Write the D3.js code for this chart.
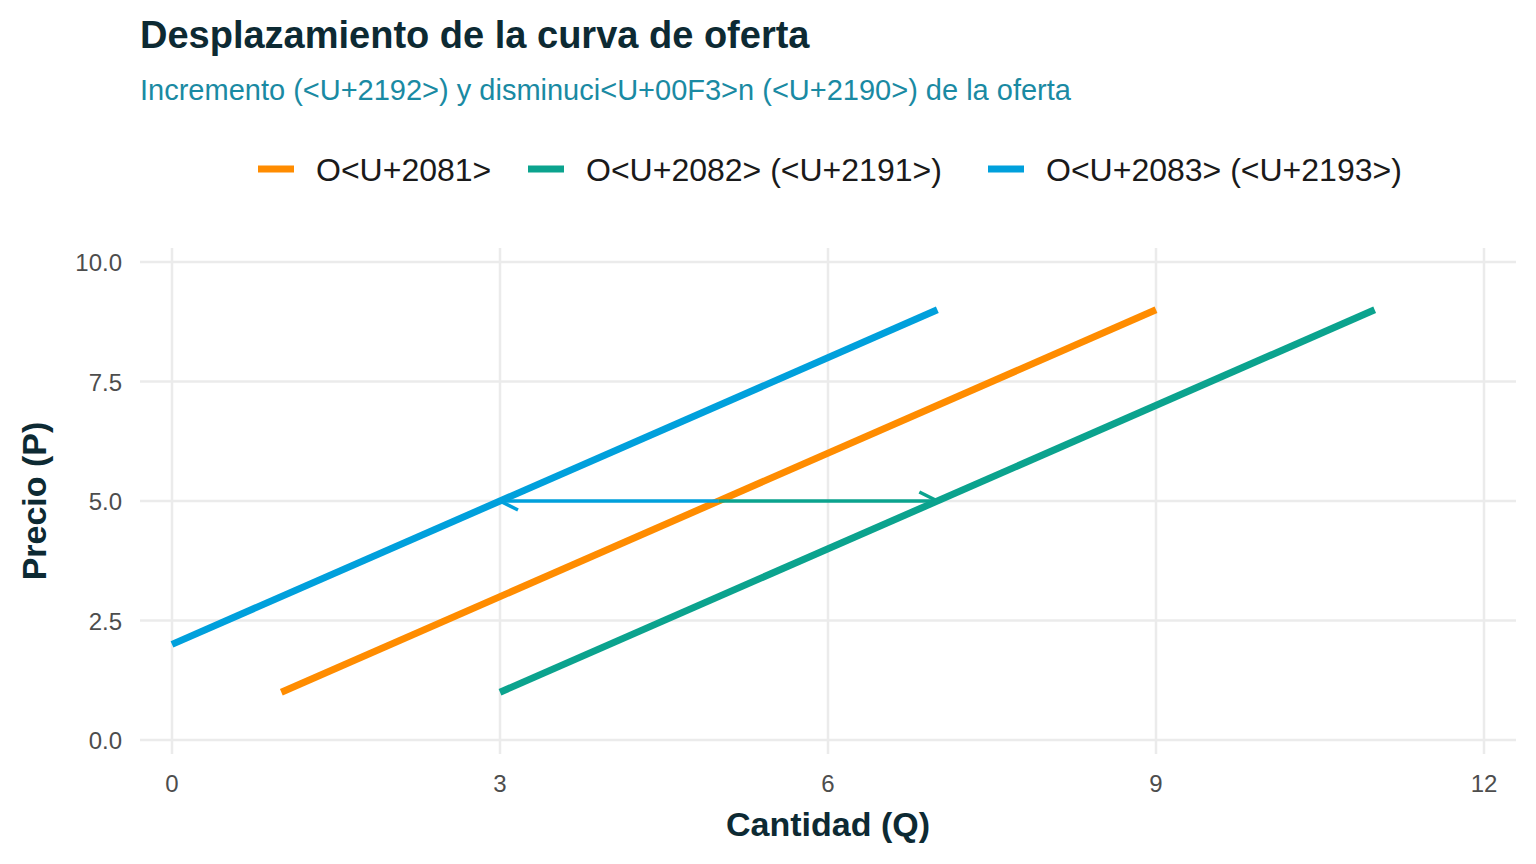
<!DOCTYPE html>
<html><head><meta charset="utf-8">
<script src="https://cdn.jsdelivr.net/npm/d3@7"></script>
<style>body{margin:0;background:#fff;font-family:"Liberation Sans",Arial,sans-serif}</style>
</head><body><svg id="chart" width="1536" height="864"></svg>
<script>
// Supply curves: [q0, p0, q1, p1]
var seriesNames = ['O<U+2081>', 'O<U+2082> (<U+2191>)', 'O<U+2083> (<U+2193>)'];
var seriesColors = ['#FF8C00', '#0BA38E', '#00A0DC'];
var seriesLines = [[1, 1, 9, 9], [3, 1, 11, 9], [0, 2, 7, 9]];
// Shift arrows: [fromQ, toQ, price, colour index]
var arrows = [[5, 7, 5, 1], [5, 3, 5, 2]];
var xTicks = [0, 3, 6, 9, 12];
var yTicks = [0, 2.5, 5, 7.5, 10];

var svg = d3.select('#chart');
var x = d3.scaleLinear().domain([0, 12]).range([172, 1484]);
var y = d3.scaleLinear().domain([0, 10]).range([740, 262]);

// grid
svg.selectAll('.gx').data(xTicks).join('line')
    .attr('x1', d => x(d)).attr('x2', d => x(d)).attr('y1', 248).attr('y2', 754)
    .attr('stroke', '#ebebeb').attr('stroke-width', 2.5);
svg.selectAll('.gy').data(yTicks).join('line')
    .attr('x1', 140).attr('x2', 1516).attr('y1', d => y(d)).attr('y2', d => y(d))
    .attr('stroke', '#ebebeb').attr('stroke-width', 2.5);

// tick labels
svg.selectAll('.tx').data(xTicks).join('text')
    .attr('x', d => x(d)).attr('y', 792).attr('text-anchor', 'middle')
    .attr('font-size', 24).attr('fill', '#4d4d4d').text(d => d);
svg.selectAll('.ty').data(yTicks).join('text')
    .attr('x', 122).attr('y', d => y(d) + 9).attr('text-anchor', 'end')
    .attr('font-size', 24).attr('fill', '#4d4d4d').text(d => d3.format('.1f')(d));

// lines
svg.selectAll('.ln').data(seriesLines).join('line')
    .attr('x1', d => x(d[0])).attr('y1', d => y(d[1]))
    .attr('x2', d => x(d[2])).attr('y2', d => y(d[3]))
    .attr('stroke', (d, i) => seriesColors[i]).attr('stroke-width', 7);

// arrows
arrows.forEach(function(a) {
    var c = seriesColors[a[3]];
    var x0 = x(a[0]), x1 = x(a[1]), yy = y(a[2]);
    var dir = x1 > x0 ? 1 : -1;
    svg.append('line').attr('x1', x0).attr('x2', x1).attr('y1', yy).attr('y2', yy)
        .attr('stroke', c).attr('stroke-width', 3.5);
    svg.append('path')
        .attr('d', 'M' + (x1 - dir * 18) + ',' + (yy - 9) + 'L' + x1 + ',' + yy + 'L' + (x1 - dir * 18) + ',' + (yy + 9))
        .attr('fill', 'none').attr('stroke', c).attr('stroke-width', 3.5);
});

// axis titles
svg.append('text').attr('x', 828).attr('y', 836).attr('text-anchor', 'middle')
    .attr('font-size', 34).attr('font-weight', 'bold').attr('fill', '#0d2a33').text('Cantidad (Q)');
svg.append('text').attr('transform', 'translate(46,501) rotate(-90)').attr('text-anchor', 'middle')
    .attr('font-size', 34).attr('font-weight', 'bold').attr('fill', '#0d2a33').text('Precio (P)');

// title & subtitle
svg.append('text').attr('x', 140).attr('y', 48).attr('font-size', 38).attr('font-weight', 'bold')
    .attr('fill', '#0d2a33').text('Desplazamiento de la curva de oferta');
svg.append('text').attr('x', 140).attr('y', 100).attr('font-size', 29).attr('fill', '#1a8aa3')
    .text('Incremento (<U+2192>) y disminuci<U+00F3>n (<U+2190>) de la oferta');

// legend
var legX = [258, 528, 988];
seriesNames.forEach(function(n, i) {
    svg.append('line').attr('x1', legX[i]).attr('x2', legX[i] + 36).attr('y1', 169).attr('y2', 169)
        .attr('stroke', seriesColors[i]).attr('stroke-width', 7);
    svg.append('text').attr('x', legX[i] + 58).attr('y', 181).attr('font-size', 32)
        .attr('fill', '#1a1a1a').text(n);
});
</script></body></html>
